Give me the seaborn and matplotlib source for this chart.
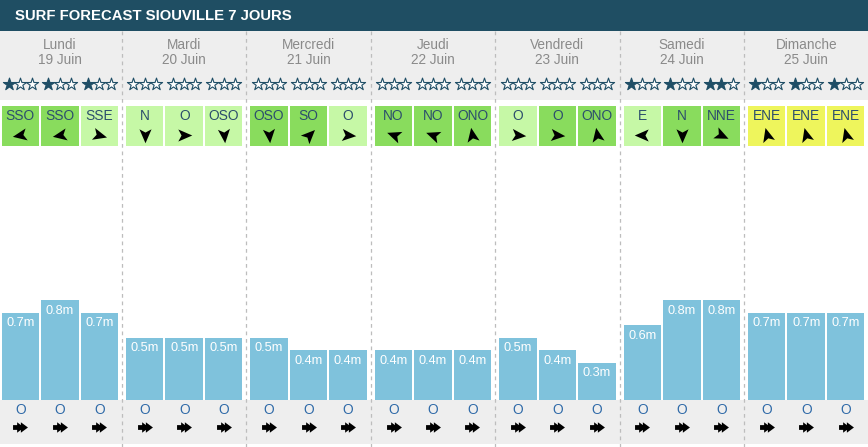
import numpy as np
import pandas as pd
import matplotlib
matplotlib.use("Agg")
import matplotlib.pyplot as plt
import seaborn as sns
from matplotlib.patches import Rectangle
from matplotlib.path import Path
from matplotlib.markers import MarkerStyle
from matplotlib.transforms import Affine2D

# ---------------- data ----------------
title = "SURF FORECAST SIOUVILLE 7 JOURS"
days = ["Lundi", "Mardi", "Mercredi", "Jeudi", "Vendredi", "Samedi", "Dimanche"]
dates = ["19 Juin", "20 Juin", "21 Juin", "22 Juin", "23 Juin", "24 Juin", "25 Juin"]
slots = ["matin", "midi", "soir"]
wave_height = [0.7, 0.8, 0.7,
               0.5, 0.5, 0.5,
               0.5, 0.4, 0.4,
               0.4, 0.4, 0.4,
               0.5, 0.4, 0.3,
               0.6, 0.8, 0.8,
               0.7, 0.7, 0.7]
stars = [1, 1, 1,
         0, 0, 0,
         0, 0, 0,
         0, 0, 0,
         0, 0, 0,
         1, 1, 2,
         1, 1, 1]
wind_dir = ["SSO", "SSO", "SSE",
            "N", "O", "OSO",
            "OSO", "SO", "O",
            "NO", "NO", "ONO",
            "O", "O", "ONO",
            "E", "N", "NNE",
            "ENE", "ENE", "ENE"]
wind_quality = ["good", "good", "fair",
                "fair", "fair", "fair",
                "good", "good", "fair",
                "good", "good", "good",
                "fair", "good", "good",
                "fair", "good", "good",
                "onshore", "onshore", "onshore"]
wind_arrow_angle = [190, 190, 345,
                    270, 0, 275,
                    275, 45, 355,
                    160, 160, 100,
                    355, 355, 100,
                    180, 270, 335,
                    105, 105, 105]
swell_dir = ["O"] * 21
swell_arrow_angle = [0] * 21

# ---------------- style ----------------
header_col = "#1f4e63"
band_col = "#eeeeee"
bar_col = "#7fc2dc"
quality_col = {"good": "#89dc5d", "fair": "#c6f8a6", "onshore": "#eef55c"}
star_col = "#1f4e66"
wind_txt_col = "#2c4e6c"
day_txt_col = "#8a8a8a"
swell_txt_col = "#2f6aa8"

sns.set_theme(style="white")
plt.rcParams["font.family"] = ["Liberation Sans", "DejaVu Sans"]

W_PX, H_PX = 868, 447
fig = plt.figure(figsize=(W_PX / 100, H_PX / 100), dpi=100)
fig.patch.set_facecolor("white")

left = -2.4 / W_PX
width = 870.8 / W_PX

# background / decoration axes (y in pixels, inverted)
bg = fig.add_axes([left, 0, width, 1], zorder=0)
bg.set_xlim(-0.5, 6.5)
bg.set_ylim(H_PX, 0)
bg.axis("off")

# bar axes
bar_bottom, bar_top = 400, 150
ax = fig.add_axes([left, 1 - bar_bottom / H_PX, width, (bar_bottom - bar_top) / H_PX], zorder=2)
ax.patch.set_alpha(0)

df = pd.DataFrame({
    "day": np.repeat(days, 3),
    "slot": np.tile(slots, len(days)),
    "h": wave_height,
})
sns.barplot(data=df, x="day", y="h", hue="slot", order=days, hue_order=slots,
            palette=[bar_col] * 3, width=0.9525, gap=0.05, dodge=True,
            errorbar=None, saturation=1, legend=False, linewidth=0, ax=ax)
ax.set_xlim(-0.5, 6.5)
ax.set_ylim(0, (bar_bottom - bar_top) / 125)
ax.axis("off")

# bar labels
for p in ax.patches:
    h = p.get_height()
    xc = p.get_x() + p.get_width() / 2
    ax.annotate(f"{h:.1f}m", (xc, h), xytext=(0, -7.6), textcoords="offset points",
                ha="center", va="center", color="white", fontsize=9.2)

bars = sorted(ax.patches, key=lambda p: p.get_x())
centers = [p.get_x() + p.get_width() / 2 for p in bars]
bw = bars[0].get_width()

# header and bands
bg.add_patch(Rectangle((-0.5, 0), 7, 31, color=header_col, lw=0, zorder=0))
bg.add_patch(Rectangle((-0.5, 31), 7, 69, color=band_col, lw=0, zorder=0))
bg.add_patch(Rectangle((-0.5, 400), 7, 44, color=band_col, lw=0, zorder=0))
fig.text(15 / W_PX, 1 - 16.5 / H_PX, title, color="white", fontweight="bold",
         fontsize=10.7, ha="left", va="center")

# day separators
bg.vlines([i + 0.5 for i in range(len(days) - 1)], 31, H_PX, colors="#bdbdbd",
          linestyles=(0, (3, 3)), lw=0.9, zorder=1)

# day names/dates
for i, (d, dt) in enumerate(zip(days, dates)):
    bg.text(i, 45, d, ha="center", va="center", color=day_txt_col, fontsize=9.8)
    bg.text(i, 60.5, dt, ha="center", va="center", color=day_txt_col, fontsize=9.8)

# markers
dart = Path([(1, 0), (-0.8, 0.78), (-0.38, 0), (-0.8, -0.78), (1, 0)],
            [Path.MOVETO, Path.LINETO, Path.LINETO, Path.LINETO, Path.CLOSEPOLY])
swell_path = Path([(-1, 0.32), (-0.45, 0.32), (-0.45, 0.7), (0.05, 0.32), (0.05, 0.7),
                   (1, 0), (0.05, -0.7), (0.05, -0.32), (-0.45, -0.7), (-0.45, -0.32),
                   (-1, -0.32), (-1, 0.32)],
                  [Path.MOVETO] + [Path.LINETO] * 10 + [Path.CLOSEPOLY])

star_dx = 11.3 / 124.4
for k, xc in enumerate(centers):
    # stars
    for j in range(3):
        filled = j < stars[k]
        bg.scatter(xc + (j - 1) * star_dx, 84, marker="*", s=85,
                   facecolor=star_col if filled else "white",
                   edgecolor=star_col, linewidth=0.8, zorder=3)
    # wind box
    bg.add_patch(Rectangle((xc - bw / 2, 106), bw, 40, color=quality_col[wind_quality[k]],
                           lw=0, zorder=2))
    bg.text(xc, 116, wind_dir[k], ha="center", va="center", color=wind_txt_col,
            fontsize=9.9, zorder=3)
    m = MarkerStyle(dart, transform=Affine2D().rotate_deg(wind_arrow_angle[k]))
    bg.scatter(xc, 134.5, marker=m, s=125, color="black", lw=0, zorder=3)
    # swell
    bg.text(xc, 410, swell_dir[k], ha="center", va="center", color=swell_txt_col,
            fontsize=9.9, zorder=3)
    ms = MarkerStyle(swell_path, transform=Affine2D().rotate_deg(swell_arrow_angle[k]))
    bg.scatter(xc, 427, marker=ms, s=115, color="black", lw=0, zorder=3)

fig.savefig("out.png", dpi=100)
